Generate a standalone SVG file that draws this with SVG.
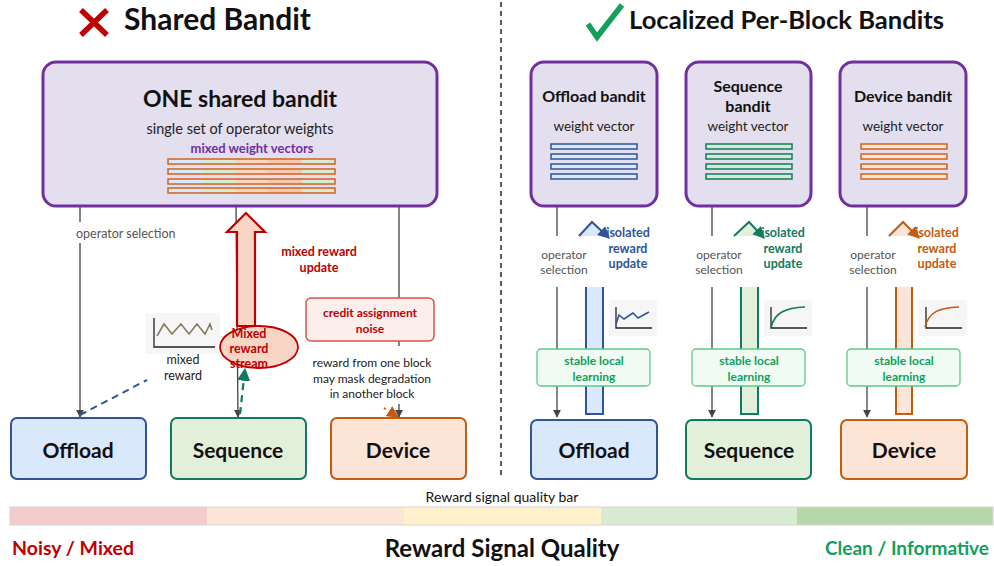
<svg xmlns="http://www.w3.org/2000/svg" width="994" height="566" viewBox="0 0 994 566">
  <defs>
    <marker id="ah-gray" viewBox="0 0 10 10" refX="9" refY="5" markerWidth="6" markerHeight="6" orient="auto">
      <path d="M0,0 L10,5 L0,10 z" fill="#444"/>
    </marker>
    <marker id="ah-green" viewBox="0 0 10 10" refX="9" refY="5" markerWidth="6" markerHeight="6" orient="auto">
      <path d="M0,0 L10,5 L0,10 z" fill="#0f7b5f"/>
    </marker>
    <marker id="ah-orange" viewBox="0 0 10 10" refX="9" refY="5" markerWidth="6" markerHeight="6" orient="auto">
      <path d="M0,0 L10,5 L0,10 z" fill="#c55a11"/>
    </marker>
    <marker id="ah-blue" viewBox="0 0 10 10" refX="9" refY="5" markerWidth="6" markerHeight="6" orient="auto">
      <path d="M0,0 L10,5 L0,10 z" fill="#2f5597"/>
    </marker>
  </defs>
  <style>
    text { font-family: Lato, "Open Sans", "Liberation Sans", sans-serif; }
    .title { font-weight: bold; fill: #111; }
    .bandit { fill: #e3dfee; stroke: #7030a0; stroke-width: 3; }
    .sub { font-size: 13.5px; fill: #222; text-anchor: middle; }
    .btitle { font-size: 16px; font-weight: bold; fill: #111; text-anchor: middle; }
    .node-label { font-size: 21px; font-weight: bold; fill: #111; text-anchor: middle; }
    .gray-line { stroke: #444; stroke-width: 1.3; fill: none; }
    .opsel { font-size: 12px; fill: #555; text-anchor: middle; }
    .stable { fill: #effbf3; stroke: #5cc98a; stroke-width: 1.3; }
    .stable-t { font-size: 12px; font-weight: bold; fill: #12a05c; text-anchor: middle; }
    .chart-bg { fill: #f6f6f6; }
    .axis { stroke: #222; stroke-width: 1.3; fill: none; }
    .iso { font-size: 12.5px; font-weight: bold; text-anchor: middle; }
  </style>

  <rect width="994" height="566" fill="#ffffff"/>

  <!-- Section headings -->
  <g id="heading-left">
    <path d="M81,10 L107,35 M107,10 L81,35" stroke="#c00000" stroke-width="5.5" fill="none"/>
    <text class="title" x="124" y="30" style="font-size:30px">Shared Bandit</text>
  </g>
  <g id="heading-right">
    <path d="M588,24 L597,37 L622,5" stroke="#12a05c" stroke-width="5.5" fill="none" stroke-linejoin="miter"/>
    <text class="title" x="629" y="29" style="font-size:25.6px">Localized Per-Block Bandits</text>
  </g>

  <!-- Divider -->
  <line x1="501" y1="2" x2="501" y2="478" stroke="#333" stroke-width="1.6" stroke-dasharray="5,4"/>

  <!-- ===== Left: shared bandit ===== -->
  <g id="connectors-left">
    <!-- operator selection, Offload -->
    <line class="gray-line" x1="80" y1="206" x2="80" y2="222"/>
    <line class="gray-line" x1="80" y1="243" x2="80" y2="417" marker-end="url(#ah-gray)"/>
    <text x="76" y="238" style="font-size:12.5px;fill:#555">operator selection</text>
    <!-- Sequence -->
    <line class="gray-line" x1="236" y1="206" x2="238" y2="417" marker-end="url(#ah-gray)"/>
    <!-- Device -->
    <line class="gray-line" x1="399" y1="206" x2="399" y2="298"/>
    <line class="gray-line" x1="399" y1="341" x2="399" y2="346"/>
    <line class="gray-line" x1="399" y1="404" x2="399" y2="417" marker-end="url(#ah-gray)"/>
    <!-- dashed feedback -->
    <line x1="80" y1="415" x2="147" y2="380" stroke="#2f5597" stroke-width="2" stroke-dasharray="7,5"/>
    <line x1="240" y1="414" x2="245" y2="369" stroke="#0f7b5f" stroke-width="2.2" stroke-dasharray="7,5" marker-end="url(#ah-green)"/>
    <line x1="296" y1="350" x2="279" y2="339" stroke="#c55a11" stroke-width="2" stroke-dasharray="6,5" marker-end="url(#ah-orange)"/>
    <line x1="384" y1="408" x2="398" y2="417" stroke="#c55a11" stroke-width="2" stroke-dasharray="2,8" marker-end="url(#ah-orange)"/>
  </g>

  <g id="shared-bandit">
    <rect class="bandit" x="43" y="62" width="394" height="144" rx="13"/>
    <text x="240" y="107" style="font-size:23px;font-weight:bold;fill:#111;text-anchor:middle">ONE shared bandit</text>
    <text x="240" y="134" style="font-size:14.5px;fill:#222;text-anchor:middle">single set of operator weights</text>
    <text x="252" y="153" style="font-size:13px;font-weight:bold;fill:#7030a0;text-anchor:middle">mixed weight vectors</text>
    <g id="mixed-bars">
      <g>
        <rect x="168" y="159" width="34" height="5" fill="#dae8fc"/>
        <rect x="202" y="159" width="33" height="5" fill="#d9ead3"/>
        <rect x="235" y="159" width="33" height="5" fill="#fbd5c0"/>
        <rect x="268" y="159" width="34" height="5" fill="#f8c8ad"/>
        <rect x="302" y="159" width="33" height="5" fill="#d9ead3"/>
        <rect x="168" y="159" width="167" height="5" fill="none" stroke="#d0641f" stroke-width="1.5"/>
      </g>
      <g transform="translate(0,10)">
        <rect x="168" y="159" width="34" height="5" fill="#dae8fc"/>
        <rect x="202" y="159" width="33" height="5" fill="#d9ead3"/>
        <rect x="235" y="159" width="33" height="5" fill="#fbd5c0"/>
        <rect x="268" y="159" width="34" height="5" fill="#f8c8ad"/>
        <rect x="302" y="159" width="33" height="5" fill="#d9ead3"/>
        <rect x="168" y="159" width="167" height="5" fill="none" stroke="#d0641f" stroke-width="1.5"/>
      </g>
      <g transform="translate(0,20)">
        <rect x="168" y="159" width="34" height="5" fill="#dae8fc"/>
        <rect x="202" y="159" width="33" height="5" fill="#d9ead3"/>
        <rect x="235" y="159" width="33" height="5" fill="#fbd5c0"/>
        <rect x="268" y="159" width="34" height="5" fill="#f8c8ad"/>
        <rect x="302" y="159" width="33" height="5" fill="#d9ead3"/>
        <rect x="168" y="159" width="167" height="5" fill="none" stroke="#d0641f" stroke-width="1.5"/>
      </g>
      <g transform="translate(0,29)">
        <rect x="168" y="159" width="34" height="5" fill="#dae8fc"/>
        <rect x="202" y="159" width="33" height="5" fill="#d9ead3"/>
        <rect x="235" y="159" width="33" height="5" fill="#fbd5c0"/>
        <rect x="268" y="159" width="34" height="5" fill="#f8c8ad"/>
        <rect x="302" y="159" width="33" height="5" fill="#d9ead3"/>
        <rect x="168" y="159" width="167" height="5" fill="none" stroke="#d0641f" stroke-width="1.5"/>
      </g>
    </g>
  </g>

  <g id="mixed-reward-update">
    <path d="M237,326 L237,232 L227,232 L246,213 L265,232 L255,232 L255,326 Z" fill="#f8d5c4" stroke="#c00000" stroke-width="2.2" stroke-linejoin="miter"/>
    <text x="319" y="256" style="font-size:12.5px;font-weight:bold;fill:#c00000;text-anchor:middle">mixed reward</text>
    <text x="319" y="272" style="font-size:12.5px;font-weight:bold;fill:#c00000;text-anchor:middle">update</text>
  </g>

  <g id="mixed-reward-chart">
    <rect class="chart-bg" x="146" y="313" width="74" height="41"/>
    <path class="axis" d="M154,318 V347 H215"/>
    <polyline points="157,336 164,324 172,334 181,324 189,334 197,324 205,334 210,324 212,330" fill="none" stroke="#8c7a62" stroke-width="1.6"/>
    <text x="183" y="364" style="font-size:12.5px;fill:#222;text-anchor:middle">mixed</text>
    <text x="183" y="380" style="font-size:12.5px;fill:#222;text-anchor:middle">reward</text>
  </g>

  <g id="mixed-reward-stream">
    <ellipse cx="259" cy="347" rx="39" ry="21" fill="#f8d5c4" stroke="#c00000" stroke-width="1.8"/>
    <text x="249" y="338" style="font-size:12.5px;font-weight:bold;fill:#c00000;text-anchor:middle">Mixed</text>
    <text x="249" y="353" style="font-size:12.5px;font-weight:bold;fill:#c00000;text-anchor:middle">reward</text>
    <text x="249" y="368" style="font-size:12.5px;font-weight:bold;fill:#c00000;text-anchor:middle">stream</text>
  </g>

  <g id="credit-noise">
    <rect x="306" y="298" width="128" height="43" rx="5" fill="#fdeeee" stroke="#d9534f" stroke-width="1.5"/>
    <text x="370" y="317" style="font-size:12px;font-weight:bold;fill:#c00000;text-anchor:middle">credit assignment</text>
    <text x="370" y="333" style="font-size:12px;font-weight:bold;fill:#c00000;text-anchor:middle">noise</text>
  </g>

  <g id="mask-note">
    <text x="372" y="367" style="font-size:12px;fill:#222;text-anchor:middle">reward from one block</text>
    <text x="372" y="383" style="font-size:12px;fill:#222;text-anchor:middle">may mask degradation</text>
    <text x="372" y="398" style="font-size:12px;fill:#222;text-anchor:middle">in another block</text>
  </g>

  <g id="left-offload">
    <rect x="11" y="418" width="135" height="61" rx="6" fill="#dae8fc" stroke="#2f5597" stroke-width="2"/>
    <text class="node-label" x="78" y="458">Offload</text>
  </g>
  <g id="left-sequence">
    <rect x="171" y="418" width="135" height="61" rx="6" fill="#e2efda" stroke="#0f7b5f" stroke-width="2"/>
    <text class="node-label" x="238" y="458">Sequence</text>
  </g>
  <g id="left-device">
    <rect x="331" y="418" width="135" height="61" rx="6" fill="#fce4d6" stroke="#c55a11" stroke-width="2"/>
    <text class="node-label" x="398" y="458">Device</text>
  </g>

  <!-- ===== Right: per-block bandits ===== -->
  <!-- Offload column -->
  <g id="connectors-offload">
    <line class="gray-line" x1="557" y1="206" x2="557" y2="236"/>
    <line class="gray-line" x1="557" y1="287" x2="557" y2="417" marker-end="url(#ah-gray)"/>
    <polygon points="579,236 592,222 605,236" fill="#dae8fc"/>
    <polyline points="579,236 592,222 609,238" fill="none" stroke="#2f5597" stroke-width="2" marker-end="url(#ah-blue)"/>
    <path d="M586,287 V414 H603 V287" fill="#dae8fc" stroke="#2f5597" stroke-width="2"/>
  </g>
  <g id="offload-bandit">
    <rect class="bandit" x="531" y="62" width="126" height="144" rx="13"/>
    <text class="btitle" x="594" y="102">Offload bandit</text>
    <text class="sub" x="594" y="131">weight vector</text>
    <g fill="#dae8fc" stroke="#2f5597" stroke-width="1.5">
      <rect x="551" y="144" width="86" height="5"/>
      <rect x="551" y="154" width="86" height="5"/>
      <rect x="551" y="164" width="86" height="5"/>
      <rect x="551" y="174" width="86" height="5"/>
    </g>
  </g>
  <g id="offload-labels">
    <text class="opsel" x="564" y="259">operator</text>
    <text class="opsel" x="564" y="274">selection</text>
    <text class="iso" x="628" y="237" fill="#2f5597">isolated</text>
    <text class="iso" x="628" y="253" fill="#2f5597">reward</text>
    <text class="iso" x="628" y="268" fill="#2f5597">update</text>
    <rect class="chart-bg" x="609" y="300" width="48" height="36"/>
    <path class="axis" d="M616,307 V328 H652"/>
    <polyline points="616,324 619,315 624,319 633,313 638,318 649,312" fill="none" stroke="#2f5597" stroke-width="1.6"/>
  </g>
  <g id="offload-stable">
    <rect class="stable" x="537" y="349" width="113" height="37" rx="4"/>
    <text class="stable-t" x="594" y="365">stable local</text>
    <text class="stable-t" x="594" y="381">learning</text>
  </g>
  <g id="right-offload">
    <rect x="531" y="420" width="126" height="59" rx="6" fill="#dae8fc" stroke="#2f5597" stroke-width="2"/>
    <text class="node-label" x="594" y="458">Offload</text>
  </g>

  <!-- Sequence column -->
  <g id="connectors-sequence">
    <line class="gray-line" x1="712" y1="206" x2="712" y2="236"/>
    <line class="gray-line" x1="712" y1="287" x2="712" y2="417" marker-end="url(#ah-gray)"/>
    <polygon points="734,236 749,222 760,236" fill="#e2efda"/>
    <polyline points="734,236 749,222 764,238" fill="none" stroke="#0f7b5f" stroke-width="2" marker-end="url(#ah-green)"/>
    <path d="M741,287 V414 H758 V287" fill="#e2efda" stroke="#0f7b5f" stroke-width="2"/>
  </g>
  <g id="sequence-bandit">
    <rect class="bandit" x="686" y="62" width="125" height="144" rx="13"/>
    <text class="btitle" x="748" y="92">Sequence</text>
    <text class="btitle" x="748" y="112">bandit</text>
    <text class="sub" x="748" y="131">weight vector</text>
    <g fill="#d9ead3" stroke="#0f7b5f" stroke-width="1.5">
      <rect x="706" y="144" width="86" height="5"/>
      <rect x="706" y="154" width="86" height="5"/>
      <rect x="706" y="164" width="86" height="5"/>
      <rect x="706" y="174" width="86" height="5"/>
    </g>
  </g>
  <g id="sequence-labels">
    <text class="opsel" x="719" y="259">operator</text>
    <text class="opsel" x="719" y="274">selection</text>
    <text class="iso" x="783" y="237" fill="#0f7b5f">isolated</text>
    <text class="iso" x="783" y="253" fill="#0f7b5f">reward</text>
    <text class="iso" x="783" y="268" fill="#0f7b5f">update</text>
    <rect class="chart-bg" x="764" y="300" width="48" height="36"/>
    <path class="axis" d="M771,307 V328 H807"/>
    <path d="M771,327 C775,312 786,308 805,307" fill="none" stroke="#0f7b5f" stroke-width="1.6"/>
  </g>
  <g id="sequence-stable">
    <rect class="stable" x="692" y="349" width="113" height="37" rx="4"/>
    <text class="stable-t" x="749" y="365">stable local</text>
    <text class="stable-t" x="749" y="381">learning</text>
  </g>
  <g id="right-sequence">
    <rect x="686" y="420" width="125" height="59" rx="6" fill="#e2efda" stroke="#0f7b5f" stroke-width="2"/>
    <text class="node-label" x="749" y="458">Sequence</text>
  </g>

  <!-- Device column -->
  <g id="connectors-device">
    <line class="gray-line" x1="867" y1="206" x2="867" y2="236"/>
    <line class="gray-line" x1="867" y1="287" x2="867" y2="417" marker-end="url(#ah-gray)"/>
    <polygon points="889,236 903,222 915,236" fill="#fce4d6"/>
    <polyline points="889,236 903,222 919,238" fill="none" stroke="#c55a11" stroke-width="2" marker-end="url(#ah-orange)"/>
    <path d="M896,287 V414 H912 V287" fill="#fce4d6" stroke="#c55a11" stroke-width="2"/>
  </g>
  <g id="device-bandit">
    <rect class="bandit" x="840" y="62" width="126" height="144" rx="13"/>
    <text class="btitle" x="903" y="102">Device bandit</text>
    <text class="sub" x="903" y="131">weight vector</text>
    <g fill="#fce4d6" stroke="#d0641f" stroke-width="1.5">
      <rect x="861" y="144" width="86" height="5"/>
      <rect x="861" y="154" width="86" height="5"/>
      <rect x="861" y="164" width="86" height="5"/>
      <rect x="861" y="174" width="86" height="5"/>
    </g>
  </g>
  <g id="device-labels">
    <text class="opsel" x="873" y="259">operator</text>
    <text class="opsel" x="873" y="274">selection</text>
    <text class="iso" x="937" y="237" fill="#c55a11">isolated</text>
    <text class="iso" x="937" y="253" fill="#c55a11">reward</text>
    <text class="iso" x="937" y="268" fill="#c55a11">update</text>
    <rect class="chart-bg" x="918" y="300" width="49" height="36"/>
    <path class="axis" d="M926,307 V328 H962"/>
    <path d="M925,327 C929,311 940,308 959,307" fill="none" stroke="#c55a11" stroke-width="1.6"/>
  </g>
  <g id="device-stable">
    <rect class="stable" x="847" y="349" width="113" height="37" rx="4"/>
    <text class="stable-t" x="904" y="365">stable local</text>
    <text class="stable-t" x="904" y="381">learning</text>
  </g>
  <g id="right-device">
    <rect x="841" y="420" width="126" height="59" rx="6" fill="#fce4d6" stroke="#c55a11" stroke-width="2"/>
    <text class="node-label" x="904" y="458">Device</text>
  </g>

  <!-- ===== Reward signal quality scale ===== -->
  <g id="quality-bar">
    <text x="502" y="502" style="font-size:14px;fill:#111;text-anchor:middle">Reward signal quality bar</text>
    <rect x="10" y="507" width="197" height="18" fill="#f4cccc"/>
    <rect x="207" y="507" width="197" height="18" fill="#fce4d6"/>
    <rect x="404" y="507" width="197" height="18" fill="#fff2cc"/>
    <rect x="601" y="507" width="196" height="18" fill="#d9ead3"/>
    <rect x="797" y="507" width="196" height="18" fill="#b6d7a8"/>
    <rect x="10" y="507" width="983" height="18" fill="none" stroke="#d6d6d6" stroke-width="1"/>
    <text x="12" y="555" style="font-size:19.5px;font-weight:bold;fill:#c00000">Noisy / Mixed</text>
    <text x="502" y="557" style="font-size:24px;font-weight:bold;fill:#111;text-anchor:middle">Reward Signal Quality</text>
    <text x="989" y="555" style="font-size:19px;font-weight:bold;fill:#12a05c;text-anchor:end">Clean / Informative</text>
  </g>
</svg>
